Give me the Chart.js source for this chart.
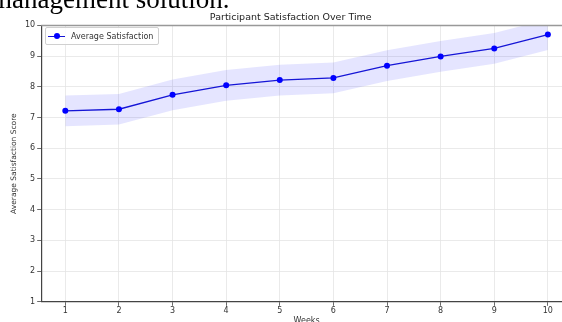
<!DOCTYPE html>
<html>
<head>
<meta charset="utf-8">
<script src="https://cdn.jsdelivr.net/npm/chart.js@4"></script>
<style>
  html, body { margin: 0; padding: 0; background: #fff; overflow: hidden; }
  #wrap { position: relative; width: 614px; height: 326px; }
  #topText {
    position: absolute; left: -9px; top: -14px;
    font: 27px/27px "Liberation Serif", "Times New Roman", serif;
    color: #000; white-space: nowrap;
  }
  #legend {
    position: absolute; left: 45px; top: 27px;
    height: 16px; padding: 0 5px 0 2px;
    border: 1px solid #d0d0d0; border-radius: 2px; background: rgba(255,255,255,0.85);
    font: 8px "DejaVu Sans", sans-serif; color: #333;
    display: flex; align-items: center; white-space: nowrap;
  }
  #legend .sample { position: relative; width: 17px; height: 8px; margin-right: 6px; }
  #legend .sample .ln { position: absolute; left: 0; right: 0; top: 3.5px; height: 1.3px; background: #1515d6; }
  #legend .sample .dot { position: absolute; left: 5.5px; top: 1px; width: 6px; height: 6px; border-radius: 50%; background: #0000ff; }
</style>
</head>
<body>
<div id="wrap">
  <canvas id="chart" width="614" height="326"></canvas>
  <div id="topText">management solution.</div>
  <div id="legend"></div>
</div>
<script>
// values
const weeks = [1, 2, 3, 4, 5, 6, 7, 8, 9, 10];
const avgSatisfaction = [7.22, 7.27, 7.74, 8.05, 8.22, 8.29, 8.69, 8.99, 9.25, 9.70];
const bandHigh = [7.72, 7.77, 8.24, 8.55, 8.72, 8.79, 9.19, 9.49, 9.75, 10.20];
const bandLow = [6.72, 6.77, 7.24, 7.55, 7.72, 7.79, 8.19, 8.49, 8.75, 9.20];
const xTicks = [1, 2, 3, 4, 5, 6, 7, 8, 9, 10];
const yTicks = [1, 2, 3, 4, 5, 6, 7, 8, 9, 10];
const seriesLabel = 'Average Satisfaction';

const pts = arr => weeks.map((w, i) => ({ x: w, y: arr[i] }));
const tickFont = { family: 'DejaVu Sans', size: 8 };

// top spine (matplotlib style frame)
const topSpine = {
  id: 'topSpine',
  afterDatasetsDraw(chart) {
    const { ctx, chartArea: a } = chart;
    ctx.save();
    ctx.strokeStyle = '#999';
    ctx.lineWidth = 1.5;
    ctx.beginPath();
    ctx.moveTo(a.left, a.top);
    ctx.lineTo(a.right, a.top);
    ctx.stroke();
    ctx.restore();
  }
};

new Chart(document.getElementById('chart'), {
  type: 'line',
  data: {
    datasets: [
      { data: pts(bandLow), borderWidth: 0, borderColor: 'transparent', pointRadius: 0, fill: false, order: 2 },
      { data: pts(bandHigh), borderWidth: 0, borderColor: 'transparent', pointRadius: 0, fill: 0,
        backgroundColor: 'rgba(40,40,255,0.12)', order: 1 },
      { label: seriesLabel, data: pts(avgSatisfaction), borderColor: '#1515d6', borderWidth: 1.3,
        pointRadius: 3, pointBackgroundColor: '#0000ff', pointBorderWidth: 0, fill: false, order: 0 }
    ]
  },
  options: {
    responsive: false,
    devicePixelRatio: 1,
    animation: false,
    layout: { padding: { left: 9.5, right: 42, top: 0, bottom: 0 } },
    plugins: {
      legend: { display: false },
      tooltip: { enabled: false },
      title: {
        display: true, text: 'Participant Satisfaction Over Time', color: '#222',
        font: { family: 'DejaVu Sans', size: 9.5, weight: 'normal' },
        padding: { top: 12, bottom: 2 }
      }
    },
    scales: {
      x: {
        type: 'linear', min: 0.55, max: 10.45,
        afterBuildTicks: s => { s.ticks = xTicks.map(v => ({ value: v })); },
        ticks: { font: tickFont, color: '#333', padding: 0, maxRotation: 0 },
        grid: { color: '#e4e4e4', lineWidth: 0.8, tickLength: 4, tickColor: '#444' },
        border: { color: '#444', width: 1.2 },
        title: { display: true, text: 'Weeks', color: '#333', font: tickFont, padding: { top: 1, bottom: 0 } }
      },
      y: {
        min: 1, max: 10,
        afterBuildTicks: s => { s.ticks = yTicks.map(v => ({ value: v })); },
        ticks: { font: tickFont, color: '#333', padding: 2 },
        grid: { color: '#e4e4e4', lineWidth: 0.8, tickLength: 4, tickColor: '#444' },
        border: { color: '#444', width: 1.2 },
        title: { display: true, text: 'Average Satisfaction Score', color: '#333',
          font: { family: 'DejaVu Sans', size: 7.5 }, padding: { top: 0, bottom: 4.5 } }
      }
    }
  },
  plugins: [topSpine]
});

document.getElementById('legend').innerHTML =
  '<span class="sample"><span class="ln"></span><span class="dot"></span></span><span>' + seriesLabel + '</span>';
</script>
</body>
</html>
